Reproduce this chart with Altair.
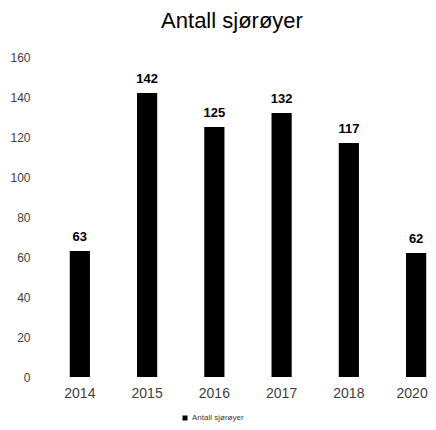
import altair as alt
import pandas as pd

years = ["2014", "2015", "2016", "2017", "2018", "2020"]
counts = [63, 142, 125, 132, 117, 62]
series = ["Antall sjørøyer"] * len(years)

df = pd.DataFrame({"year": years, "count": counts, "series": series})

FONT = "Liberation Sans"

base = alt.Chart(df).encode(
    x=alt.X(
        "year:N",
        sort=years,
        scale=alt.Scale(paddingInner=0.7, paddingOuter=0.19, align=0.93),
        axis=alt.Axis(
            title=None, labelAngle=0, ticks=False, domain=False,
            labelFontSize=14, labelColor="#404040", labelPadding=9, labelFont=FONT,
            labelOffset=alt.expr("datum.value == '2020' ? -4 : 0"),
        ),
    ),
    y=alt.Y(
        "count:Q",
        scale=alt.Scale(domain=[0, 160]),
        axis=alt.Axis(
            title=None, values=[0, 20, 40, 60, 80, 100, 120, 140, 160],
            ticks=False, domain=False, grid=False,
            labelFontSize=12, labelColor="#404040", labelPadding=16, labelFont=FONT,
        ),
    ),
)

bars = base.mark_bar(color="black").encode(
    color=alt.Color(
        "series:N",
        scale=alt.Scale(range=["black"]),
        legend=alt.Legend(
            title=None, orient="none", legendX=135, legendY=357,
            symbolType="square", symbolSize=25, labelFontSize=8, labelOffset=3,
            labelFont=FONT, labelColor="#404040", symbolStrokeWidth=0,
        ),
    )
)

labels = base.mark_text(
    baseline="alphabetic", dy=-10, fontSize=13, fontWeight="bold",
    font=FONT, color="black",
).encode(text="count:Q")

chart = (
    (bars + labels)
    .properties(
        width=382,
        height=320,
        title=alt.TitleParams(
            "Antall sjørøyer", fontSize=22, font=FONT, fontWeight="normal",
            anchor="middle", dx=-5, offset=18, color="black",
        ),
        autosize=alt.AutoSizeParams(type="none"),
        padding={"left": 38, "top": 49, "right": 0, "bottom": 45},
    )
    .configure_view(stroke=None)
)

chart.save("out.html", embed_options={"renderer": "svg", "actions": False})
